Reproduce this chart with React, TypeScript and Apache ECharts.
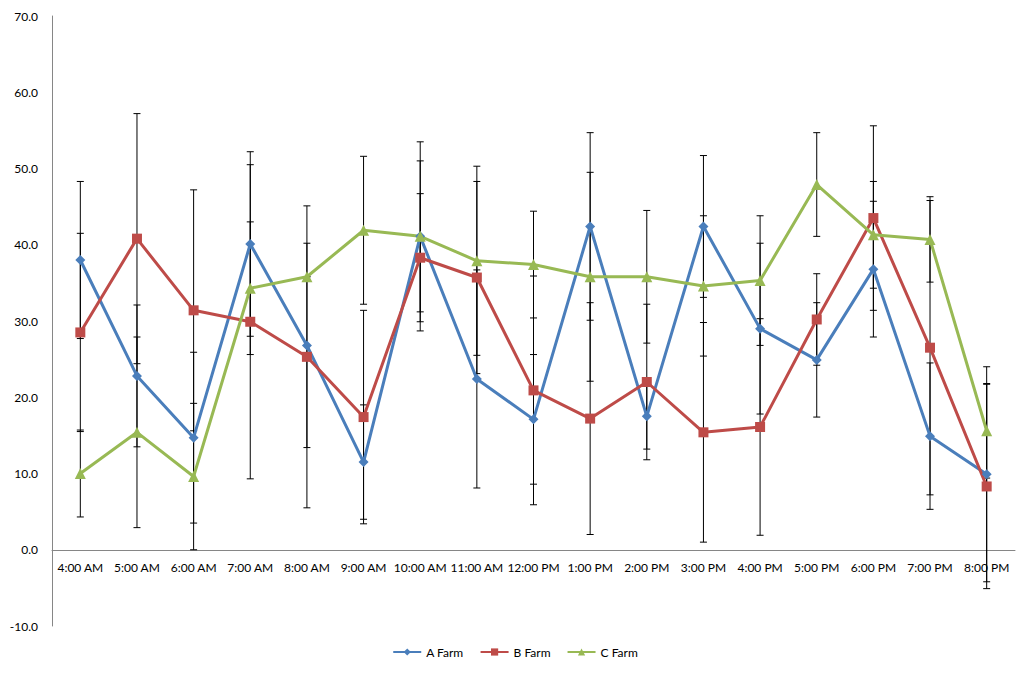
import React, { useEffect, useRef } from "react";
import * as echarts from "echarts";

const categories = [
  "4:00 AM", "5:00 AM", "6:00 AM", "7:00 AM", "8:00 AM", "9:00 AM", "10:00 AM", "11:00 AM",
  "12:00 PM", "1:00 PM", "2:00 PM", "3:00 PM", "4:00 PM", "5:00 PM", "6:00 PM", "7:00 PM", "8:00 PM",
];

const seriesNames = ["A Farm", "B Farm", "C Farm"];

const aFarm = [38.0, 22.8, 14.7, 40.1, 26.8, 11.5, 41.1, 22.4, 17.1, 42.4, 17.5, 42.4, 29.0, 24.9, 36.8, 14.9, 9.9];
const bFarm = [28.5, 40.8, 31.4, 29.9, 25.3, 17.4, 38.3, 35.7, 20.9, 17.2, 22.0, 15.4, 16.1, 30.2, 43.5, 26.5, 8.3];
const cFarm = [10.0, 15.4, 9.6, 34.3, 35.8, 41.9, 41.1, 37.9, 37.4, 35.8, 35.8, 34.6, 35.3, 47.9, 41.3, 40.7, 15.6];

// symmetric error (± value)
const aErr = [10.3, 9.3, 11.2, 12.1, 13.4, 7.5, 12.4, 14.3, 8.5, 12.3, 4.3, 9.3, 11.2, 7.5, 8.9, 9.6, 14.1];
const bErr = [13.0, 16.4, 15.8, 20.6, 19.8, 14.0, 8.4, 12.6, 15.0, 15.2, 10.2, 14.4, 14.2, 6.0, 12.1, 19.3, 13.4];
const cErr = [5.7, 12.5, 9.6, 8.7, 0, 9.7, 9.9, 12.4, 7.0, 13.7, 8.7, 9.2, 8.5, 6.8, 7.0, 5.6, 6.2];

const yTicks = { min: -10, max: 70, interval: 10 };

const colors = ["#4A7EBB", "#BE4B48", "#98B954"];
const symbols = ["diamond", "rect", "triangle"];
const symbolSizes = [10, 10, 11];

const FONT = "Lato, 'Liberation Sans', sans-serif";

const GRID = { left: 52, right: 15, top: 16, bottom: 49 };
const CHART_H = 675;

export default function App() {
  const ref = useRef<HTMLDivElement>(null);

  useEffect(() => {
    if (!ref.current) return;
    const chart = echarts.init(ref.current, null, { renderer: "svg" });
    const values = [aFarm, bFarm, cFarm];
    const errs = [aErr, bErr, cErr];

    const plotH = CHART_H - GRID.top - GRID.bottom;
    const zeroOffset = (plotH * (0 - yTicks.min)) / (yTicks.max - yTicks.min);

    const errorSeries = values.map((vals, si) => ({
      type: "custom",
      name: seriesNames[si] + " error",
      z: 1,
      silent: true,
      data: vals.map((v, i) => [i, v - errs[si][i], v + errs[si][i]]),
      renderItem: (params: any, api: any) => {
        const x = api.value(0);
        const lo = api.coord([x, api.value(1)]);
        const hi = api.coord([x, api.value(2)]);
        const half = 3.5;
        const style = { stroke: "#000", lineWidth: 1 };
        return {
          type: "group",
          children: [
            { type: "line", shape: { x1: lo[0], y1: lo[1], x2: hi[0], y2: hi[1] }, style },
            { type: "line", shape: { x1: lo[0] - half, y1: lo[1], x2: lo[0] + half, y2: lo[1] }, style },
            { type: "line", shape: { x1: hi[0] - half, y1: hi[1], x2: hi[0] + half, y2: hi[1] }, style },
          ],
        };
      },
    }));

    const lineSeries = values.map((vals, si) => ({
      type: "line",
      name: seriesNames[si],
      data: vals,
      z: 3,
      symbol: symbols[si],
      symbolSize: symbolSizes[si],
      showAllSymbol: true,
      lineStyle: { color: colors[si], width: 3 },
      itemStyle: { color: colors[si] },
    }));

    chart.setOption({
      animation: false,
      backgroundColor: "#fff",
      textStyle: { fontFamily: FONT },
      grid: { ...GRID, containLabel: false },
      legend: {
        data: seriesNames,
        bottom: 12,
        left: "center",
        itemWidth: 28,
        itemHeight: 9,
        itemGap: 16,
        textStyle: { fontFamily: FONT, fontSize: 12, color: "#000" },
      },
      xAxis: {
        type: "category",
        data: categories,
        boundaryGap: true,
        position: "bottom",
        offset: -zeroOffset,
        axisLine: { onZero: false, lineStyle: { color: "#868686", width: 1 } },
        axisTick: { show: false },
        axisLabel: { color: "#000", fontSize: 12, fontFamily: FONT, margin: 12, interval: 0 },
        splitLine: { show: false },
      },
      yAxis: {
        type: "value",
        min: yTicks.min,
        max: yTicks.max,
        interval: yTicks.interval,
        axisLine: { show: true, lineStyle: { color: "#868686", width: 1 } },
        axisTick: { show: false },
        splitLine: { show: false },
        axisLabel: {
          color: "#000",
          fontSize: 12,
          fontFamily: FONT,
          margin: 14,
          formatter: (v: number) => v.toFixed(1),
        },
      },
      series: [...errorSeries, ...lineSeries],
    });

    return () => chart.dispose();
  }, []);

  return (
    <div
      ref={ref}
      style={{ position: "absolute", left: 0, top: 0, width: 1030, height: CHART_H }}
    />
  );
}
